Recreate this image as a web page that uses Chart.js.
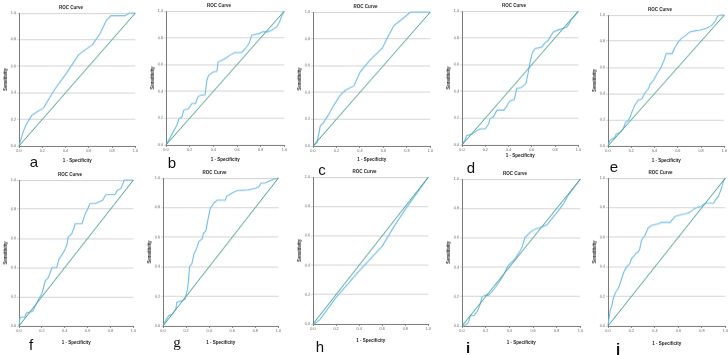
<!DOCTYPE html>
<html>
<head>
<meta charset="utf-8">
<script src="https://cdn.jsdelivr.net/npm/chart.js@4.4.0/dist/chart.umd.min.js"></script>
<style>
  html, body { margin: 0; padding: 0; background: #fff; overflow: hidden; }
  #fig { position: relative; width: 728px; height: 355px; }
  .panel { position: absolute; }
  .tag { position: absolute; font: 15px 'Liberation Sans', Arial, sans-serif; line-height: 1; transform: translateX(-50%); color: #111; }
</style>
</head>
<body>
<div id="fig"></div>
<script>
// tick labels shared by both axes
const tickLabels = ['0.0', '0.2', '0.4', '0.6', '0.8', '1.0'];

// reference line
const diagX = [0, 1];
const diagY = [0, 1];

// ROC curves: 1 - specificity (X) and sensitivity (Y)
const aX = [0, 0.03, 0.06, 0.11, 0.16, 0.21, 0.31, 0.41, 0.51, 0.58, 0.63, 0.70, 0.75, 0.79, 0.91, 0.95, 1];
const aY = [0, 0.09, 0.16, 0.23, 0.26, 0.285, 0.43, 0.55, 0.685, 0.73, 0.76, 0.85, 0.945, 0.98, 0.98, 1, 1];

const bX = [0, 0.05, 0.09, 0.11, 0.135, 0.15, 0.19, 0.22, 0.25, 0.27, 0.29, 0.33, 0.345, 0.36, 0.40, 0.43, 0.44, 0.48, 0.51, 0.54, 0.58, 0.64, 0.67, 0.70, 0.725, 0.78, 0.82, 0.86, 0.89, 0.935, 0.96, 0.98, 1];
const bY = [0, 0.08, 0.145, 0.195, 0.21, 0.26, 0.27, 0.31, 0.31, 0.36, 0.37, 0.375, 0.48, 0.52, 0.545, 0.55, 0.62, 0.635, 0.65, 0.67, 0.69, 0.69, 0.72, 0.755, 0.82, 0.83, 0.845, 0.845, 0.855, 0.88, 0.92, 0.97, 1];

const cX = [0, 0.035, 0.0625, 0.09, 0.13, 0.175, 0.23, 0.275, 0.35, 0.40, 0.475, 0.53, 0.59, 0.63, 0.69, 0.77, 0.83, 1];
const cY = [0, 0.025, 0.15, 0.176, 0.23, 0.30, 0.377, 0.415, 0.45, 0.55, 0.63, 0.68, 0.73, 0.80, 0.90, 0.955, 1, 1];

const dX = [0, 0.03, 0.04, 0.085, 0.13, 0.16, 0.2, 0.23, 0.24, 0.27, 0.30, 0.36, 0.385, 0.41, 0.45, 0.47, 0.51, 0.55, 0.57, 0.585, 0.605, 0.63, 0.685, 0.71, 0.74, 0.76, 0.785, 0.83, 0.87, 0.9, 0.92, 0.94, 0.965, 1];
const dY = [0, 0.045, 0.07, 0.08, 0.11, 0.12, 0.12, 0.16, 0.195, 0.21, 0.26, 0.26, 0.29, 0.33, 0.34, 0.42, 0.43, 0.46, 0.545, 0.62, 0.69, 0.72, 0.73, 0.76, 0.78, 0.81, 0.845, 0.86, 0.87, 0.88, 0.905, 0.94, 0.96, 1];

const eX = [0, 0.015, 0.03, 0.06, 0.07, 0.10, 0.13, 0.15, 0.17, 0.19, 0.21, 0.23, 0.26, 0.29, 0.32, 0.35, 0.36, 0.39, 0.42, 0.45, 0.48, 0.50, 0.55, 0.58, 0.605, 0.63, 0.67, 0.70, 0.75, 0.79, 0.85, 0.89, 0.92, 0.94, 0.965, 1];
const eY = [0, 0.04, 0.05, 0.065, 0.09, 0.10, 0.13, 0.18, 0.19, 0.22, 0.27, 0.31, 0.35, 0.36, 0.41, 0.44, 0.47, 0.50, 0.55, 0.59, 0.65, 0.705, 0.705, 0.76, 0.795, 0.82, 0.845, 0.87, 0.88, 0.885, 0.90, 0.92, 0.95, 0.99, 1, 1];

const fX = [0, 0.01, 0.05, 0.065, 0.12, 0.15, 0.18, 0.20, 0.21, 0.23, 0.255, 0.27, 0.29, 0.33, 0.35, 0.37, 0.40, 0.42, 0.43, 0.46, 0.48, 0.49, 0.55, 0.58, 0.60, 0.62, 0.67, 0.70, 0.73, 0.76, 0.84, 0.86, 0.89, 0.91, 0.92, 1];
const fY = [0, 0.06, 0.06, 0.09, 0.10, 0.15, 0.195, 0.22, 0.25, 0.31, 0.33, 0.36, 0.40, 0.40, 0.46, 0.48, 0.52, 0.56, 0.61, 0.63, 0.67, 0.70, 0.70, 0.77, 0.80, 0.84, 0.84, 0.85, 0.86, 0.90, 0.90, 0.93, 0.94, 0.98, 1, 1];

const gX = [0, 0.02, 0.05, 0.08, 0.11, 0.12, 0.16, 0.19, 0.21, 0.22, 0.23, 0.25, 0.27, 0.29, 0.31, 0.34, 0.35, 0.37, 0.38, 0.395, 0.41, 0.44, 0.47, 0.54, 0.55, 0.60, 0.64, 0.74, 0.80, 0.83, 0.85, 0.885, 0.92, 0.955, 1];
const gY = [0, 0.034, 0.07, 0.08, 0.11, 0.16, 0.17, 0.18, 0.24, 0.295, 0.40, 0.42, 0.49, 0.52, 0.57, 0.59, 0.625, 0.64, 0.68, 0.74, 0.795, 0.83, 0.85, 0.85, 0.875, 0.90, 0.915, 0.92, 0.93, 0.94, 0.966, 0.966, 0.98, 0.99, 1];

const hX = [0, 0.03, 0.06, 0.2, 0.4, 0.6, 0.7, 0.8, 1];
const hY = [0, 0.01, 0.03, 0.18, 0.36, 0.53, 0.66, 0.78, 1];

const iX = [0, 0.04, 0.055, 0.07, 0.10, 0.13, 0.155, 0.17, 0.20, 0.225, 0.25, 0.27, 0.28, 0.34, 0.39, 0.45, 0.49, 0.51, 0.53, 0.58, 0.62, 0.68, 0.72, 0.76, 0.82, 0.86, 0.89, 1];
const iY = [0, 0.01, 0.025, 0.07, 0.07, 0.10, 0.15, 0.20, 0.21, 0.21, 0.23, 0.25, 0.26, 0.33, 0.41, 0.46, 0.51, 0.54, 0.60, 0.64, 0.66, 0.675, 0.69, 0.73, 0.79, 0.835, 0.88, 1];

const jX = [0, 0.01, 0.02, 0.034, 0.04, 0.05, 0.066, 0.086, 0.10, 0.12, 0.14, 0.16, 0.186, 0.20, 0.214, 0.237, 0.257, 0.27, 0.286, 0.314, 0.34, 0.37, 0.43, 0.457, 0.53, 0.57, 0.61, 0.67, 0.70, 0.74, 0.786, 0.83, 0.84, 0.90, 0.914, 0.94, 0.957, 0.97, 0.986, 1];
const jY = [0, 0.057, 0.11, 0.14, 0.17, 0.20, 0.23, 0.25, 0.28, 0.33, 0.375, 0.40, 0.42, 0.455, 0.466, 0.49, 0.50, 0.52, 0.58, 0.61, 0.66, 0.68, 0.69, 0.70, 0.70, 0.74, 0.75, 0.76, 0.77, 0.795, 0.807, 0.83, 0.83, 0.83, 0.85, 0.875, 0.91, 0.94, 0.985, 1];

// plot box of every panel (L,T,R,B), x title distance, letter position
const panels = [
  { tag: 'a', xs: aX, ys: aY, L: 19,  T: 13,  R: 135, B: 145, xt: 15, lx: 34,  lb: 167 },
  { tag: 'b', xs: bX, ys: bY, L: 166, T: 11,  R: 284, B: 144, xt: 15, lx: 172, lb: 168 },
  { tag: 'c', xs: cX, ys: cY, L: 313, T: 12,  R: 430, B: 145, xt: 14, lx: 322, lb: 175 },
  { tag: 'd', xs: dX, ys: dY, L: 462, T: 11,  R: 578, B: 144, xt: 11, lx: 471, lb: 173 },
  { tag: 'e', xs: eX, ys: eY, L: 608, T: 15,  R: 724, B: 145, xt: 15, lx: 614, lb: 172 },
  { tag: 'f', xs: fX, ys: fY, L: 19,  T: 180, R: 133, B: 325, xt: 17, lx: 31,  lb: 350 },
  { tag: 'g', xs: gX, ys: gY, L: 163, T: 178, R: 278, B: 325, xt: 17, lx: 177, lb: 348, serif: true },
  { tag: 'h', xs: hX, ys: hY, L: 313, T: 177, R: 428, B: 323, xt: 17, lx: 320, lb: 352 },
  { tag: 'i', xs: iX, ys: iY, L: 462, T: 179, R: 580, B: 325, xt: 17, lx: 468, lb: 353, bold: true },
  { tag: 'j', xs: jX, ys: jY, L: 608, T: 178, R: 725, B: 325, xt: 18, lx: 618, lb: 354, bold: true }
];

const YW = 16;   // room for y ticks + title
const TH = 10;   // room for chart title
const RP = 4;    // right overhang
const FONT = "'Liberation Sans', Arial, sans-serif";

const pts = (xs, ys) => xs.map((x, i) => ({ x: x, y: ys[i] }));

const fig = document.getElementById('fig');

panels.forEach(p => {
  const XH = p.xt + 3.7;
  const box = document.createElement('div');
  box.className = 'panel';
  box.style.left = (p.L - YW) + 'px';
  box.style.top = (p.T - TH) + 'px';
  box.style.width = (p.R - p.L + YW + RP) + 'px';
  box.style.height = (p.B - p.T + TH + XH) + 'px';
  const cv = document.createElement('canvas');
  box.appendChild(cv);
  fig.appendChild(box);

  const letter = document.createElement('span');
  letter.className = 'tag';
  letter.textContent = p.tag;
  letter.style.left = p.lx + 'px';
  letter.style.top = (p.lb - 12.7) + 'px';
  if (p.serif) letter.style.fontFamily = "'Liberation Serif', 'Times New Roman', serif";
  if (p.bold) letter.style.fontWeight = 'bold';
  fig.appendChild(letter);

  new Chart(cv.getContext('2d'), {
    type: 'scatter',
    data: {
      datasets: [{
        label: 'Reference Line',
        data: pts(diagX, diagY),
        showLine: true,
        borderColor: '#3f9c8c',
        borderWidth: 1,
        pointRadius: 0,
        clip: 2
      }, {
        label: 'ROC',
        data: pts(p.xs, p.ys),
        showLine: true,
        borderColor: '#70bcf0',
        borderWidth: 1.1,
        pointRadius: 0,
        clip: 2
      }]
    },
    options: {
      responsive: true,
      maintainAspectRatio: false,
      animation: false,
      layout: { padding: 0 },
      plugins: {
        legend: { display: false },
        tooltip: { enabled: false },
        title: {
          display: true,
          text: 'ROC Curve',
          color: '#222',
          font: { family: FONT, size: 4.5, weight: 'bold' },
          padding: { top: 2, bottom: 2.6 }
        }
      },
      scales: {
        x: {
          type: 'linear',
          min: 0,
          max: 1,
          afterFit: s => { s.height = XH; },
          ticks: {
            stepSize: 0.2,
            padding: 1,
            maxRotation: 0,
            color: '#666',
            font: { family: FONT, size: 3.8 },
            callback: (v, i) => tickLabels[i]
          },
          grid: { display: true, drawOnChartArea: false, tickLength: 2, color: '#888' },
          border: { display: true, color: '#7a7a7a', width: 1 },
          title: {
            display: true,
            text: '1 - Specificity',
            color: '#222',
            font: { family: FONT, size: 4.5, weight: 'bold' },
            padding: { top: 0, bottom: 1 }
          }
        },
        y: {
          type: 'linear',
          min: 0,
          max: 1,
          afterFit: s => { s.width = YW; },
          ticks: {
            stepSize: 0.2,
            padding: 1,
            color: '#666',
            font: { family: FONT, size: 3.8 },
            callback: (v, i) => tickLabels[i]
          },
          grid: { color: '#d4d4d4', tickLength: 2, lineWidth: 1 },
          border: { display: true, color: '#7a7a7a', width: 1 },
          title: {
            display: true,
            text: 'Sensitivity',
            color: '#222',
            font: { family: FONT, size: 4.5, weight: 'bold' },
            padding: { top: 0, bottom: 0 }
          }
        }
      }
    }
  });
});
</script>
</body>
</html>
